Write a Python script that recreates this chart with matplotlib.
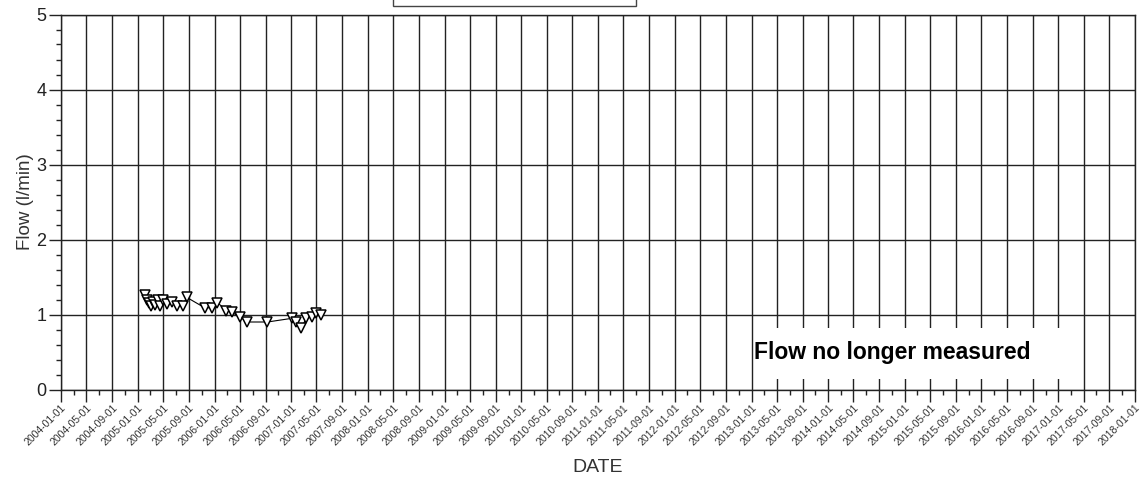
import numpy as np
import matplotlib
matplotlib.use("Agg")
import matplotlib.pyplot as plt
import matplotlib.dates as mdates
from matplotlib.patches import Rectangle

plt.rcParams['font.family'] = ['Liberation Sans', 'DejaVu Sans']

# flow readings (l/min)
dates = ["2005-02-03", "2005-02-12", "2005-02-22", "2005-03-03", "2005-03-13",
         "2005-03-22", "2005-04-06", "2005-04-15", "2005-04-29", "2005-05-18",
         "2005-06-11", "2005-07-05", "2005-08-02", "2005-08-21", "2005-11-15",
         "2005-12-18", "2006-01-15", "2006-02-27", "2006-03-23", "2006-04-30",
         "2006-06-07", "2006-09-10", "2007-01-07", "2007-01-26", "2007-02-18",
         "2007-03-14", "2007-04-12", "2007-05-01", "2007-05-24"]
flow = [1.26, 1.19, 1.15, 1.12, 1.17,
        1.13, 1.20, 1.12, 1.19, 1.14,
        1.17, 1.12, 1.11, 1.23, 1.09,
        1.09, 1.16, 1.05, 1.03, 0.97,
        0.90, 0.90, 0.95, 0.90, 0.82,
        0.95, 0.97, 1.02, 0.99]

note_text = "Flow no longer measured"

x = np.array(dates, dtype="datetime64[D]")
y = np.array(flow)

fig = plt.figure(figsize=(11.41, 4.79), dpi=100)
ax = fig.add_axes([61/1141, (479-389.5)/479, (1135-61)/1141, (389.5-14.5)/479])

ax.plot(x, y, color="black", lw=0.8, marker="v", markersize=7,
        markerfacecolor="white", markeredgecolor="black", markeredgewidth=1.1,
        zorder=5)

ax.set_xlim(np.datetime64("2004-01-01"), np.datetime64("2018-01-01"))
ax.set_ylim(0, 5)

ax.xaxis.set_major_locator(mdates.MonthLocator(bymonth=[1, 5, 9]))
ax.xaxis.set_minor_locator(mdates.MonthLocator(bymonth=[3, 7, 11]))
ax.xaxis.set_major_formatter(mdates.DateFormatter("%Y-%m-%d"))
ax.yaxis.set_major_locator(plt.MultipleLocator(1))
ax.yaxis.set_minor_locator(plt.MultipleLocator(0.2))

ax.grid(True, which="major", color="#222222", lw=1.0)
ax.tick_params(which="major", length=8.5, width=1.0, color="#222222")
ax.tick_params(which="minor", length=3.5, width=1.0, color="#222222")
ax.tick_params(axis="y", labelsize=13, pad=2, labelcolor="#222222")
ax.tick_params(axis="x", labelsize=7.5, labelcolor="#333333", pad=1)
for lab in ax.get_xticklabels():
    lab.set_rotation(45)
    lab.set_ha("right")
    lab.set_va("top")
    lab.set_rotation_mode("anchor")

for s in ax.spines.values():
    s.set_color("#222222")
    s.set_linewidth(1.0)

ax.set_ylabel("Flow (l/min)", fontsize=13.5, color="#333333", labelpad=2)
ax.set_xlabel("DATE", fontsize=14, color="#333333", labelpad=8)

# white panel behind the note
ax.add_patch(Rectangle((np.datetime64("2013-01-15"), 0.14), np.timedelta64(1560, "D"), 0.68,
                       facecolor="white", edgecolor="none", zorder=3))
ax.text(np.datetime64("2014-11-01"), 0.49, note_text, fontsize=16.5, fontweight="bold",
        ha="center", va="center", zorder=4)

# top title box (cut off)
fig.patches.append(Rectangle((393/1141, 1-6/479), (636-393)/1141, 0.05,
                             transform=fig.transFigure, facecolor="white",
                             edgecolor="#444444", lw=1.0))

fig.savefig("out.png", dpi=100)
